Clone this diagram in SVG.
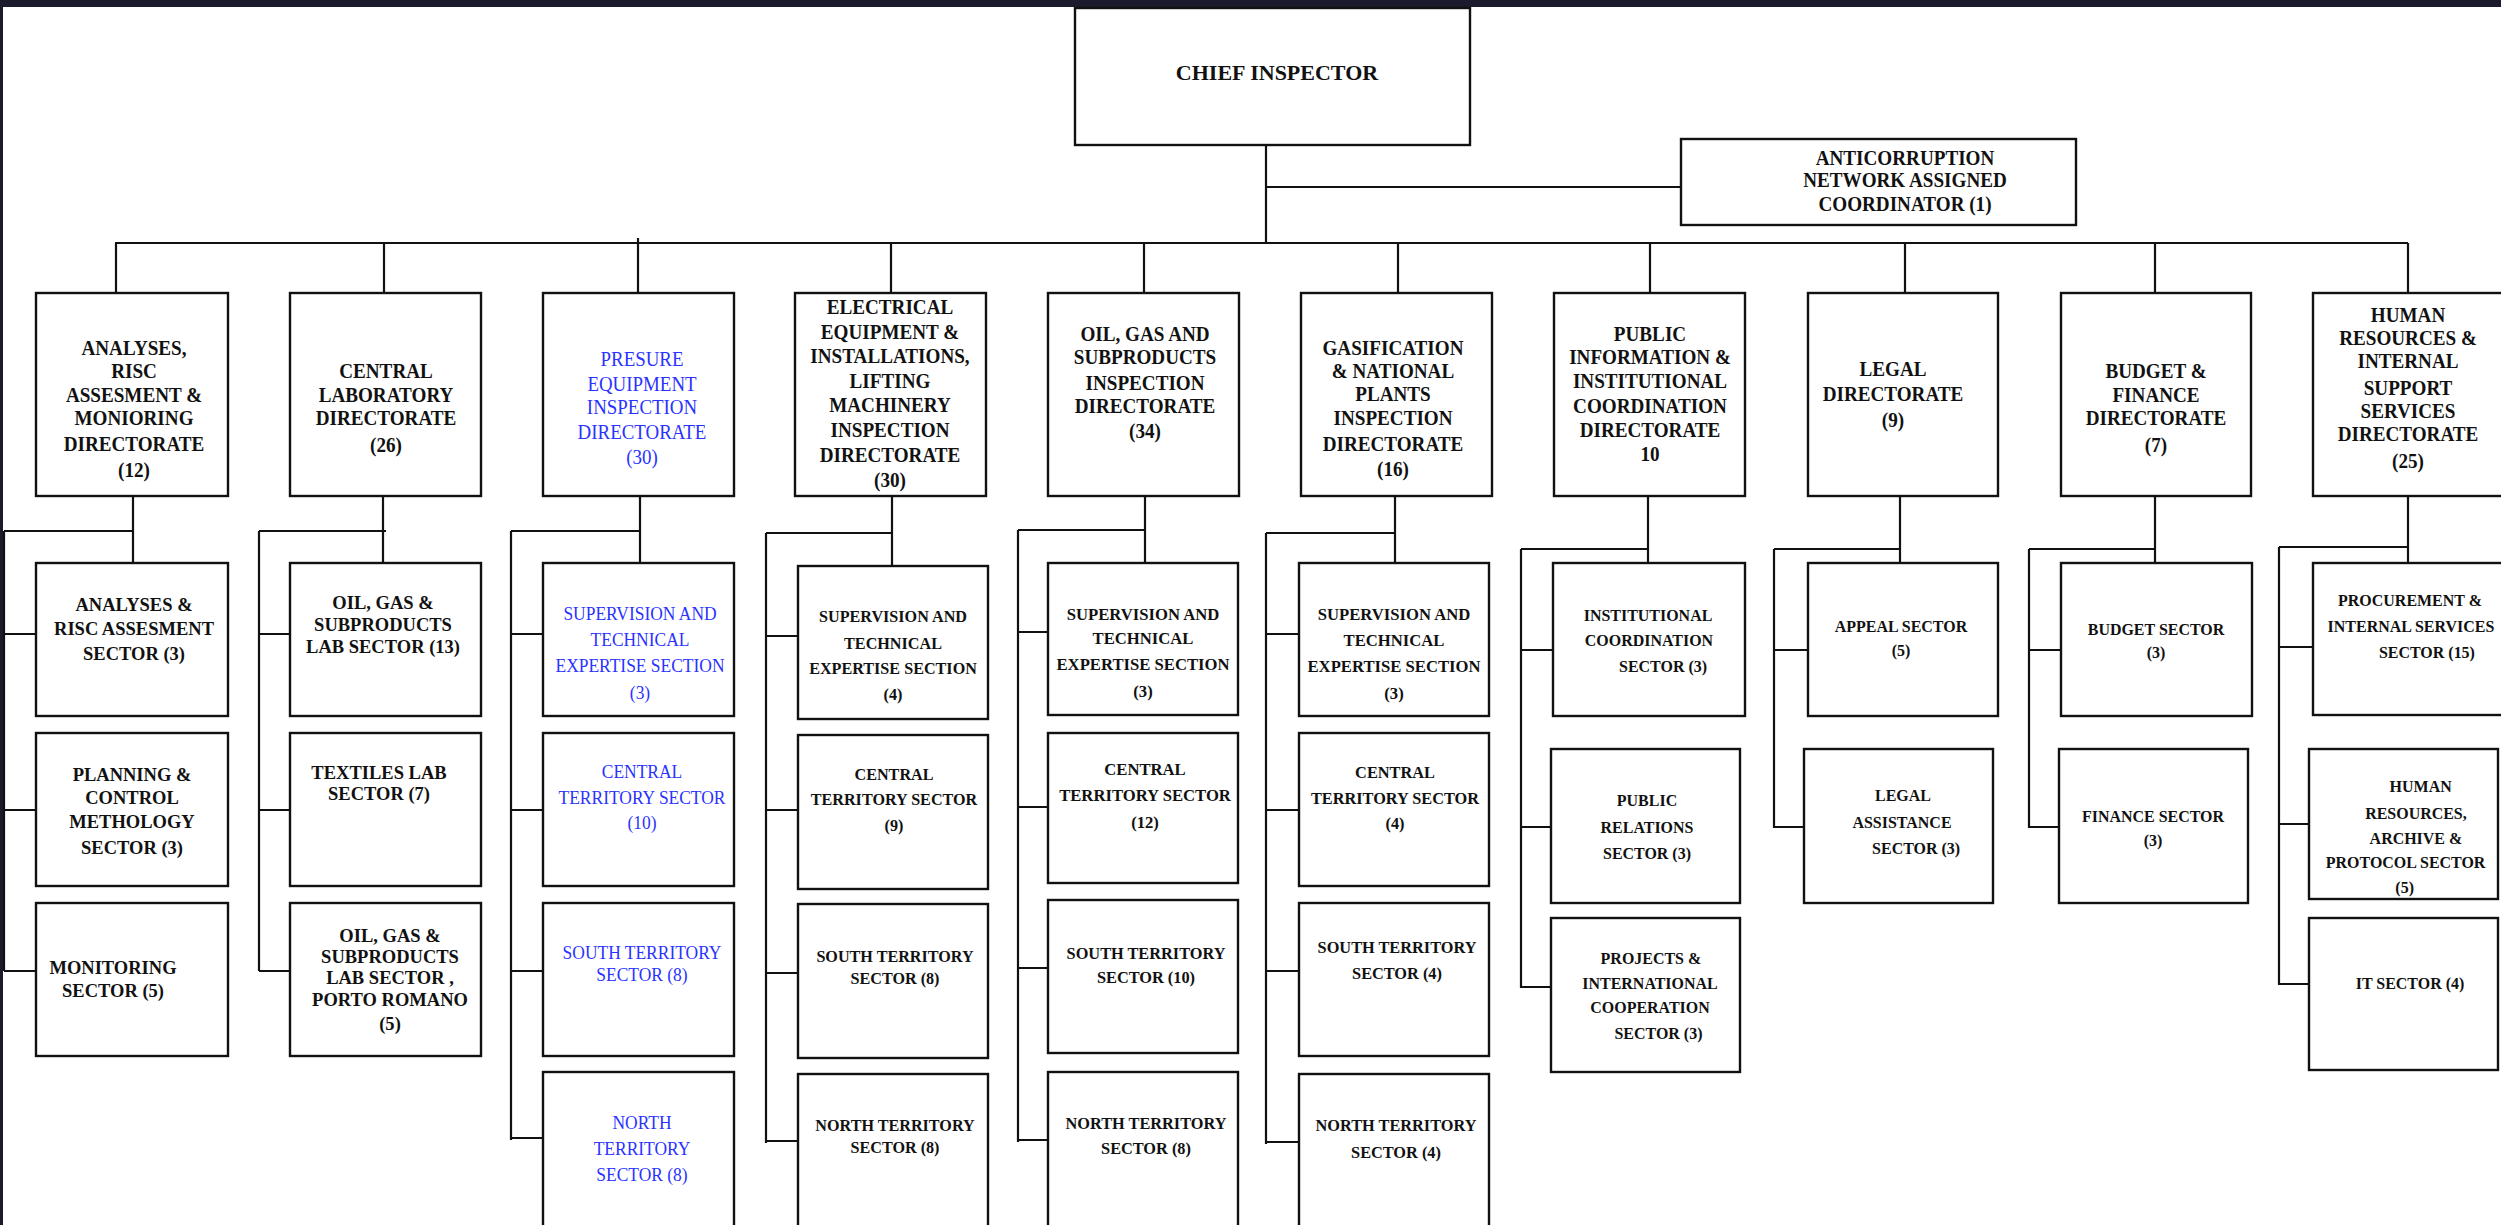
<svg xmlns="http://www.w3.org/2000/svg" width="2501" height="1225" viewBox="0 0 2501 1225">
<style>
.bg{fill:#ffffff}
.band{fill:#1c1b2e}
.box{fill:#ffffff;stroke:#111111;stroke-width:2.4}
.ln{fill:none;stroke:#111111;stroke-width:2.2}
.d{font-family:"Liberation Serif","Times New Roman",serif;font-weight:bold;font-size:22px;fill:#111111;text-anchor:middle}
.s{font-family:"Liberation Serif","Times New Roman",serif;font-weight:bold;font-size:17px;fill:#111111;text-anchor:middle}
.big{font-size:19.5px}
.mid{font-size:18px}
.blue{fill:#2a32ff;font-weight:normal}
</style>
<rect class="bg" x="0" y="0" width="2501" height="1225"/>
<rect class="band" x="0" y="0" width="2501" height="7"/>
<rect class="band" x="0" y="0" width="3" height="1225"/>

<g id="connectors">
<path class="ln" d="M1266 145V243M1266 187H1681M115 243H2408"/>
<path class="ln" d="M116 243V293M384 243V293M638 238V293M891 243V293M1144 243V293M1398 243V293M1650 243V293M1905 243V293M2155 243V293M2408 243V293"/>
<path class="ln" d="M133 496V563M4 531H133M4 531V971M4 634H36M4 810H36M4 971H36"/>
<path class="ln" d="M383 496V563M259 531H386M259 531V971M259 634H290M259 810H290M259 971H290"/>
<path class="ln" d="M640 496V563M511 531H640M511 531V1140M511 634H543M511 810H543M511 971H543M511 1138H543"/>
<path class="ln" d="M892 496V566M766 533H892M766 533V1143M766 636H798M766 810H798M766 973H798M766 1141H798"/>
<path class="ln" d="M1145 492V563M1018 530H1145M1018 530V1142M1018 632H1048M1018 807H1048M1018 968H1048M1018 1140H1048"/>
<path class="ln" d="M1395 496V563M1266 533H1395M1266 533V1144M1266 634H1299M1266 810H1299M1266 971H1299M1266 1142H1299"/>
<path class="ln" d="M1648 496V563M1521 549H1648M1521 549V988M1521 650H1553M1521 827H1551M1521 987H1551"/>
<path class="ln" d="M1900 496V563M1774 549H1900M1774 549V828M1774 650H1808M1774 827H1804"/>
<path class="ln" d="M2155 496V563M2029 549H2155M2029 549V828M2029 650H2061M2029 827H2059"/>
<path class="ln" d="M2408 496V563M2279 547H2408M2279 547V985M2279 647H2313M2279 824H2309M2279 984H2309"/>
</g>

<g id="chief">
<rect class="box" x="1075" y="8" width="395" height="137"/>
<text class="d" x="1277" y="80">CHIEF INSPECTOR</text>
</g>
<g id="anticorruption">
<rect class="box" x="1681" y="139" width="395" height="86"/>
<text class="d" transform="translate(1905 0) scale(0.87 1)"><tspan x="0" y="165">ANTICORRUPTION</tspan><tspan x="0" y="187">NETWORK ASSIGNED</tspan><tspan x="0" y="211">COORDINATOR (1)</tspan></text>
</g>

<g id="dir-analyses">
<rect class="box" x="36" y="293" width="192" height="203"/>
<text class="d" transform="translate(134 0) scale(0.87 1)"><tspan x="0" y="355">ANALYSES,</tspan><tspan x="0" y="378">RISC</tspan><tspan x="0" y="402">ASSESMENT &amp;</tspan><tspan x="0" y="425">MONIORING</tspan><tspan x="0" y="451">DIRECTORATE</tspan><tspan x="0" y="477">(12)</tspan></text>
</g>
<g id="dir-central-lab">
<rect class="box" x="290" y="293" width="191" height="203"/>
<text class="d" transform="translate(386 0) scale(0.87 1)"><tspan x="0" y="378">CENTRAL</tspan><tspan x="0" y="402">LABORATORY</tspan><tspan x="0" y="425">DIRECTORATE</tspan><tspan x="0" y="452">(26)</tspan></text>
</g>
<g id="dir-presure">
<rect class="box" x="543" y="293" width="191" height="203"/>
<text class="d blue" transform="translate(642 0) scale(0.86 1)"><tspan x="0" y="366">PRESURE</tspan><tspan x="0" y="391">EQUIPMENT</tspan><tspan x="0" y="414">INSPECTION</tspan><tspan x="0" y="439">DIRECTORATE</tspan><tspan x="0" y="464">(30)</tspan></text>
</g>
<g id="dir-electrical">
<rect class="box" x="795" y="293" width="191" height="203"/>
<text class="d" transform="translate(890 0) scale(0.87 1)"><tspan x="0" y="314">ELECTRICAL</tspan><tspan x="0" y="339">EQUIPMENT &amp;</tspan><tspan x="0" y="363">INSTALLATIONS,</tspan><tspan x="0" y="388">LIFTING</tspan><tspan x="0" y="412">MACHINERY</tspan><tspan x="0" y="437">INSPECTION</tspan><tspan x="0" y="462">DIRECTORATE</tspan><tspan x="0" y="487">(30)</tspan></text>
</g>
<g id="dir-oil-gas">
<rect class="box" x="1048" y="293" width="191" height="203"/>
<text class="d" transform="translate(1145 0) scale(0.87 1)"><tspan x="0" y="341">OIL, GAS AND</tspan><tspan x="0" y="364">SUBPRODUCTS</tspan><tspan x="0" y="390">INSPECTION</tspan><tspan x="0" y="413">DIRECTORATE</tspan><tspan x="0" y="438">(34)</tspan></text>
</g>
<g id="dir-gasification">
<rect class="box" x="1301" y="293" width="191" height="203"/>
<text class="d" transform="translate(1393 0) scale(0.87 1)"><tspan x="0" y="355">GASIFICATION</tspan><tspan x="0" y="378">&amp; NATIONAL</tspan><tspan x="0" y="401">PLANTS</tspan><tspan x="0" y="425">INSPECTION</tspan><tspan x="0" y="451">DIRECTORATE</tspan><tspan x="0" y="476">(16)</tspan></text>
</g>
<g id="dir-public-info">
<rect class="box" x="1554" y="293" width="191" height="203"/>
<text class="d" transform="translate(1650 0) scale(0.87 1)"><tspan x="0" y="341">PUBLIC</tspan><tspan x="0" y="364">INFORMATION &amp;</tspan><tspan x="0" y="388">INSTITUTIONAL</tspan><tspan x="0" y="413">COORDINATION</tspan><tspan x="0" y="437">DIRECTORATE</tspan><tspan x="0" y="461">10</tspan></text>
</g>
<g id="dir-legal">
<rect class="box" x="1808" y="293" width="190" height="203"/>
<text class="d" transform="translate(1893 0) scale(0.87 1)"><tspan x="0" y="376">LEGAL</tspan><tspan x="0" y="401">DIRECTORATE</tspan><tspan x="0" y="427">(9)</tspan></text>
</g>
<g id="dir-budget">
<rect class="box" x="2061" y="293" width="190" height="203"/>
<text class="d" transform="translate(2156 0) scale(0.87 1)"><tspan x="0" y="378">BUDGET &amp;</tspan><tspan x="0" y="402">FINANCE</tspan><tspan x="0" y="425">DIRECTORATE</tspan><tspan x="0" y="452">(7)</tspan></text>
</g>
<g id="dir-hr">
<rect class="box" x="2313" y="293" width="191" height="203"/>
<text class="d" transform="translate(2408 0) scale(0.87 1)"><tspan x="0" y="322">HUMAN</tspan><tspan x="0" y="345">RESOURCES &amp;</tspan><tspan x="0" y="368">INTERNAL</tspan><tspan x="0" y="395">SUPPORT</tspan><tspan x="0" y="418">SERVICES</tspan><tspan x="0" y="441">DIRECTORATE</tspan><tspan x="0" y="468">(25)</tspan></text>
</g>

<g id="sec-analyses-risc">
<rect class="box" x="36" y="563" width="192" height="153"/>
<text class="s big" transform="translate(134 0) scale(0.95 1)"><tspan x="0" y="611">ANALYSES &amp;</tspan><tspan x="0" y="635">RISC ASSESMENT</tspan><tspan x="0" y="660">SECTOR (3)</tspan></text>
</g>
<g id="sec-planning">
<rect class="box" x="36" y="733" width="192" height="153"/>
<text class="s big" transform="translate(132 0) scale(0.95 1)"><tspan x="0" y="781">PLANNING &amp;</tspan><tspan x="0" y="804">CONTROL</tspan><tspan x="0" y="828">METHOLOGY</tspan><tspan x="0" y="854">SECTOR (3)</tspan></text>
</g>
<g id="sec-monitoring">
<rect class="box" x="36" y="903" width="192" height="153"/>
<text class="s big" transform="translate(113 0) scale(0.95 1)"><tspan x="0" y="974">MONITORING</tspan><tspan x="0" y="997">SECTOR (5)</tspan></text>
</g>

<g id="sec-oil-lab">
<rect class="box" x="290" y="563" width="191" height="153"/>
<text class="s big" transform="translate(383 0) scale(0.95 1)"><tspan x="0" y="609">OIL, GAS &amp;</tspan><tspan x="0" y="631">SUBPRODUCTS</tspan><tspan x="0" y="653">LAB SECTOR (13)</tspan></text>
</g>
<g id="sec-textiles">
<rect class="box" x="290" y="733" width="191" height="153"/>
<text class="s big" transform="translate(379 0) scale(0.95 1)"><tspan x="0" y="779">TEXTILES LAB</tspan><tspan x="0" y="800">SECTOR (7)</tspan></text>
</g>
<g id="sec-porto-romano">
<rect class="box" x="290" y="903" width="191" height="153"/>
<text class="s big" transform="translate(390 0) scale(0.95 1)"><tspan x="0" y="942">OIL, GAS &amp;</tspan><tspan x="0" y="963">SUBPRODUCTS</tspan><tspan x="0" y="984">LAB SECTOR ,</tspan><tspan x="0" y="1006">PORTO ROMANO</tspan><tspan x="0" y="1030">(5)</tspan></text>
</g>

<g id="sec-presure-supervision">
<rect class="box" x="543" y="563" width="191" height="153"/>
<text class="s mid blue" transform="translate(640 0) scale(0.97 1)"><tspan x="0" y="620">SUPERVISION AND</tspan><tspan x="0" y="646">TECHNICAL</tspan><tspan x="0" y="672">EXPERTISE SECTION</tspan><tspan x="0" y="699">(3)</tspan></text>
</g>
<g id="sec-presure-central">
<rect class="box" x="543" y="733" width="191" height="153"/>
<text class="s mid blue" transform="translate(642 0) scale(0.97 1)"><tspan x="0" y="778">CENTRAL</tspan><tspan x="0" y="804">TERRITORY SECTOR</tspan><tspan x="0" y="829">(10)</tspan></text>
</g>
<g id="sec-presure-south">
<rect class="box" x="543" y="903" width="191" height="153"/>
<text class="s mid blue" transform="translate(642 0) scale(0.97 1)"><tspan x="0" y="959">SOUTH TERRITORY</tspan><tspan x="0" y="981">SECTOR (8)</tspan></text>
</g>
<g id="sec-presure-north">
<rect class="box" x="543" y="1072" width="191" height="160"/>
<text class="s mid blue" transform="translate(642 0) scale(0.97 1)"><tspan x="0" y="1129">NORTH</tspan><tspan x="0" y="1155">TERRITORY</tspan><tspan x="0" y="1181">SECTOR (8)</tspan></text>
</g>

<g id="sec-elec-supervision">
<rect class="box" x="798" y="566" width="190" height="153"/>
<text class="s" transform="translate(893 0) scale(0.95 1)"><tspan x="0" y="622">SUPERVISION AND</tspan><tspan x="0" y="649">TECHNICAL</tspan><tspan x="0" y="674">EXPERTISE SECTION</tspan><tspan x="0" y="700">(4)</tspan></text>
</g>
<g id="sec-elec-central">
<rect class="box" x="798" y="735" width="190" height="154"/>
<text class="s" transform="translate(894 0) scale(0.95 1)"><tspan x="0" y="780">CENTRAL</tspan><tspan x="0" y="805">TERRITORY SECTOR</tspan><tspan x="0" y="831">(9)</tspan></text>
</g>
<g id="sec-elec-south">
<rect class="box" x="798" y="904" width="190" height="154"/>
<text class="s" transform="translate(895 0) scale(0.95 1)"><tspan x="0" y="962">SOUTH TERRITORY</tspan><tspan x="0" y="984">SECTOR (8)</tspan></text>
</g>
<g id="sec-elec-north">
<rect class="box" x="798" y="1074" width="190" height="158"/>
<text class="s" transform="translate(895 0) scale(0.95 1)"><tspan x="0" y="1131">NORTH TERRITORY</tspan><tspan x="0" y="1153">SECTOR (8)</tspan></text>
</g>

<g id="sec-oil-supervision">
<rect class="box" x="1048" y="563" width="190" height="152"/>
<text class="s" transform="translate(1143 0) scale(0.98 1)"><tspan x="0" y="620">SUPERVISION AND</tspan><tspan x="0" y="644">TECHNICAL</tspan><tspan x="0" y="670">EXPERTISE SECTION</tspan><tspan x="0" y="697">(3)</tspan></text>
</g>
<g id="sec-oil-central">
<rect class="box" x="1048" y="733" width="190" height="150"/>
<text class="s" transform="translate(1145 0) scale(0.98 1)"><tspan x="0" y="775">CENTRAL</tspan><tspan x="0" y="801">TERRITORY SECTOR</tspan><tspan x="0" y="828">(12)</tspan></text>
</g>
<g id="sec-oil-south">
<rect class="box" x="1048" y="900" width="190" height="153"/>
<text class="s" transform="translate(1146 0) scale(0.96 1)"><tspan x="0" y="959">SOUTH TERRITORY</tspan><tspan x="0" y="983">SECTOR (10)</tspan></text>
</g>
<g id="sec-oil-north">
<rect class="box" x="1048" y="1072" width="190" height="160"/>
<text class="s" transform="translate(1146 0) scale(0.96 1)"><tspan x="0" y="1129">NORTH TERRITORY</tspan><tspan x="0" y="1154">SECTOR (8)</tspan></text>
</g>

<g id="sec-gas-supervision">
<rect class="box" x="1299" y="563" width="190" height="153"/>
<text class="s" transform="translate(1394 0) scale(0.98 1)"><tspan x="0" y="620">SUPERVISION AND</tspan><tspan x="0" y="646">TECHNICAL</tspan><tspan x="0" y="672">EXPERTISE SECTION</tspan><tspan x="0" y="699">(3)</tspan></text>
</g>
<g id="sec-gas-central">
<rect class="box" x="1299" y="733" width="190" height="153"/>
<text class="s" transform="translate(1395 0) scale(0.96 1)"><tspan x="0" y="778">CENTRAL</tspan><tspan x="0" y="804">TERRITORY SECTOR</tspan><tspan x="0" y="829">(4)</tspan></text>
</g>
<g id="sec-gas-south">
<rect class="box" x="1299" y="903" width="190" height="153"/>
<text class="s" transform="translate(1397 0) scale(0.96 1)"><tspan x="0" y="953">SOUTH TERRITORY</tspan><tspan x="0" y="979">SECTOR (4)</tspan></text>
</g>
<g id="sec-gas-north">
<rect class="box" x="1299" y="1074" width="190" height="158"/>
<text class="s" transform="translate(1396 0) scale(0.96 1)"><tspan x="0" y="1131">NORTH TERRITORY</tspan><tspan x="0" y="1158">SECTOR (4)</tspan></text>
</g>

<g id="sec-institutional">
<rect class="box" x="1553" y="563" width="192" height="153"/>
<text class="s" transform="translate(1648 0) scale(0.94 1)"><tspan x="0" y="621">INSTITUTIONAL</tspan><tspan x="1" y="646">COORDINATION</tspan><tspan x="16" y="672">SECTOR (3)</tspan></text>
</g>
<g id="sec-public-relations">
<rect class="box" x="1551" y="749" width="189" height="154"/>
<text class="s" transform="translate(1647 0) scale(0.94 1)"><tspan x="0" y="806">PUBLIC</tspan><tspan x="0" y="833">RELATIONS</tspan><tspan x="0" y="859">SECTOR (3)</tspan></text>
</g>
<g id="sec-projects">
<rect class="box" x="1551" y="918" width="189" height="154"/>
<text class="s" transform="translate(1650 0) scale(0.94 1)"><tspan x="1" y="964">PROJECTS &amp;</tspan><tspan x="0" y="989">INTERNATIONAL</tspan><tspan x="0" y="1013">COOPERATION</tspan><tspan x="9" y="1039">SECTOR (3)</tspan></text>
</g>

<g id="sec-appeal">
<rect class="box" x="1808" y="563" width="190" height="153"/>
<text class="s" transform="translate(1901 0) scale(0.94 1)"><tspan x="0" y="632">APPEAL SECTOR</tspan><tspan x="0" y="656">(5)</tspan></text>
</g>
<g id="sec-legal-assistance">
<rect class="box" x="1804" y="749" width="189" height="154"/>
<text class="s" transform="translate(1902 0) scale(0.94 1)"><tspan x="1" y="801">LEGAL</tspan><tspan x="0" y="828">ASSISTANCE</tspan><tspan x="15" y="854">SECTOR (3)</tspan></text>
</g>

<g id="sec-budget">
<rect class="box" x="2061" y="563" width="191" height="153"/>
<text class="s" transform="translate(2156 0) scale(0.94 1)"><tspan x="0" y="635">BUDGET SECTOR</tspan><tspan x="0" y="658">(3)</tspan></text>
</g>
<g id="sec-finance">
<rect class="box" x="2059" y="749" width="189" height="154"/>
<text class="s" transform="translate(2153 0) scale(0.94 1)"><tspan x="0" y="822">FINANCE SECTOR</tspan><tspan x="0" y="846">(3)</tspan></text>
</g>

<g id="sec-procurement">
<rect class="box" x="2313" y="563" width="191" height="152"/>
<text class="s" transform="translate(2410 0) scale(0.94 1)"><tspan x="0" y="606">PROCUREMENT &amp;</tspan><tspan x="1" y="632">INTERNAL SERVICES</tspan><tspan x="18" y="658">SECTOR (15)</tspan></text>
</g>
<g id="sec-hr-archive">
<rect class="box" x="2309" y="749" width="189" height="150"/>
<text class="s" transform="translate(2415 0) scale(0.94 1)"><tspan x="6" y="792">HUMAN</tspan><tspan x="1" y="819">RESOURCES,</tspan><tspan x="1" y="844">ARCHIVE &amp;</tspan><tspan x="-10" y="868">PROTOCOL SECTOR</tspan><tspan x="-11" y="893">(5)</tspan></text>
</g>
<g id="sec-it">
<rect class="box" x="2309" y="918" width="189" height="152"/>
<text class="s" transform="translate(2410 0) scale(0.94 1)"><tspan x="0" y="989">IT SECTOR (4)</tspan></text>
</g>
</svg>
